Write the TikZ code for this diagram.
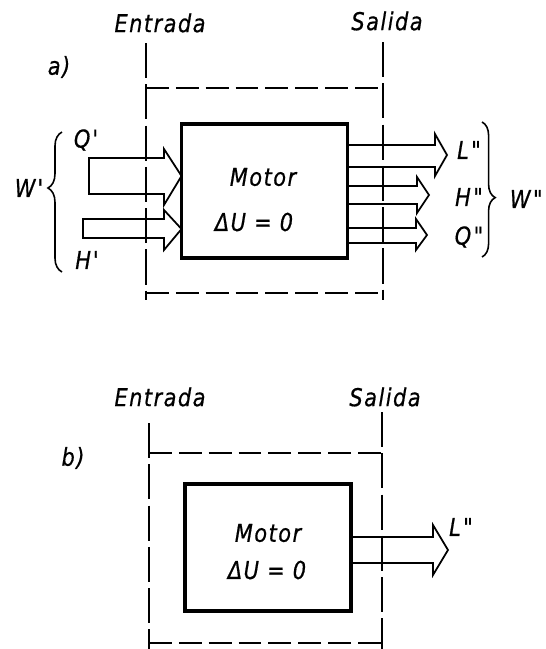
\documentclass[tikz,border=0pt]{standalone}
\usepackage{fontspec}
\newfontfamily\lf{DejaVu Sans}[FakeStretch=0.85,LetterSpace=6,FakeBold=0.6]
\newcommand\pr{\kern0.08em\char"27}
\newcommand\dpr{\kern0.1em\char"22}
\usetikzlibrary{decorations.pathreplacing}
\begin{document}
\begin{tikzpicture}[x=0.02cm,y=-0.02cm,
  lbl/.style={inner sep=0pt,font=\lf\itshape\fontsize{14}{16}\selectfont},
  motorbox/.style={draw,line width=1.8pt,inner sep=0pt,outer sep=0pt,minimum width=3.32cm},
  vbound/.style={line width=0.75pt,dash pattern=on 20pt off 3.5pt},
  hbound/.style={line width=0.75pt,dash pattern=on 13pt off 4pt},
  flow/.style={line width=1pt,line join=miter},
  brc/.style={decorate,line width=0.9pt}]
\useasboundingbox (0,0) rectangle (545,649);

% ---------------- a) ----------------
\node[lbl] (entA) at (160,23) {Entrada};
\node[lbl] (salA) at (387,21) {Salida};
\node[lbl] (labA) at (59,67) {a)};

\coordinate (aL1) at (146,43);  \coordinate (aL2) at (146,300);
\coordinate (aR1) at (383,42);  \coordinate (aR2) at (383,300);
\draw[vbound] (aL1) -- (aL2);
\draw[vbound] (aR1) -- (aR2);
\draw[hbound] (aL1 |- 0,88) -- (aR1 |- 0,88);
\draw[hbound] (aL1 |- 0,293) -- (aR1 |- 0,293);

\node[motorbox,minimum height=2.68cm] (mA) at (264.5,191) {};
\node[lbl] (motA) at (263,177) {Motor};
\node[lbl] (duA) at (254,222) {ΔU = 0};

% inputs
\draw[flow] (89,158) -- (164,158) -- (164,149) -- (mA.west |- 0,176) -- (164,205) -- (164,194) -- (89,194) -- cycle;
\draw[flow] (83,219) -- (164,219) -- (164,210) -- (mA.west |- 0,229) -- (164,250) -- (164,238) -- (83,238) -- cycle;
\node[lbl] (qA) at (86,140) {Q\pr};
\node[lbl] (hA) at (87,260) {H\pr};
\node[lbl] (wA) at (29,188) {W\pr};
\draw[brc,decoration={brace,amplitude=8pt,aspect=0.6}] (62,272) -- (62,132);

% outputs
\draw[flow] (mA.east |- 0,145) -- (435,145) -- (435,134) -- (447,155) -- (435,176) -- (435,167) -- (mA.east |- 0,167);
\draw[flow] (mA.east |- 0,186) -- (417,186) -- (417,177) -- (429,195) -- (417,213) -- (417,204) -- (mA.east |- 0,204);
\draw[flow] (mA.east |- 0,228) -- (416,228) -- (416,219) -- (427,235) -- (416,250) -- (416,243) -- (mA.east |- 0,243);
\node[lbl] (lB1) at (469,150) {L\dpr};
\node[lbl] (hB1) at (469,197) {H\dpr};
\node[lbl] (qB1) at (469,237) {Q\dpr};
\draw[brc,decoration={brace,amplitude=7.5pt,aspect=0.56}] (482,122) -- (482,257);
\node[lbl,anchor=east] (wB1) at (543,199) {W\dpr};

% ---------------- b) ----------------
\node[lbl] (entB) at (160,397) {Entrada};
\node[lbl] (salB) at (385,397) {Salida};
\node[lbl] (labB) at (73,458) {b)};

\coordinate (bL1) at (149,423); \coordinate (bL2) at (149,652);
\coordinate (bR1) at (382,412); \coordinate (bR2) at (382,652);
\draw[vbound] (bL1) -- (bL2);
\draw[vbound] (bR1) -- (bR2);
\draw[hbound] (bL1 |- 0,453) -- (bR1 |- 0,453);
\draw[hbound] (bL1 |- 0,643) -- (bR1 |- 0,643);

\node[motorbox,minimum height=2.54cm] (mB) at (268,547.5) {};
\node[lbl] (motB) at (268,533) {Motor};
\node[lbl] (duB) at (267,570) {ΔU = 0};

\draw[flow] (mB.east |- 0,537) -- (433,537) -- (433,525) -- (448,550) -- (433,575) -- (433,563) -- (mB.east |- 0,563);
\node[lbl] (lB2) at (461,527) {L\dpr};
\end{tikzpicture}
\end{document}
